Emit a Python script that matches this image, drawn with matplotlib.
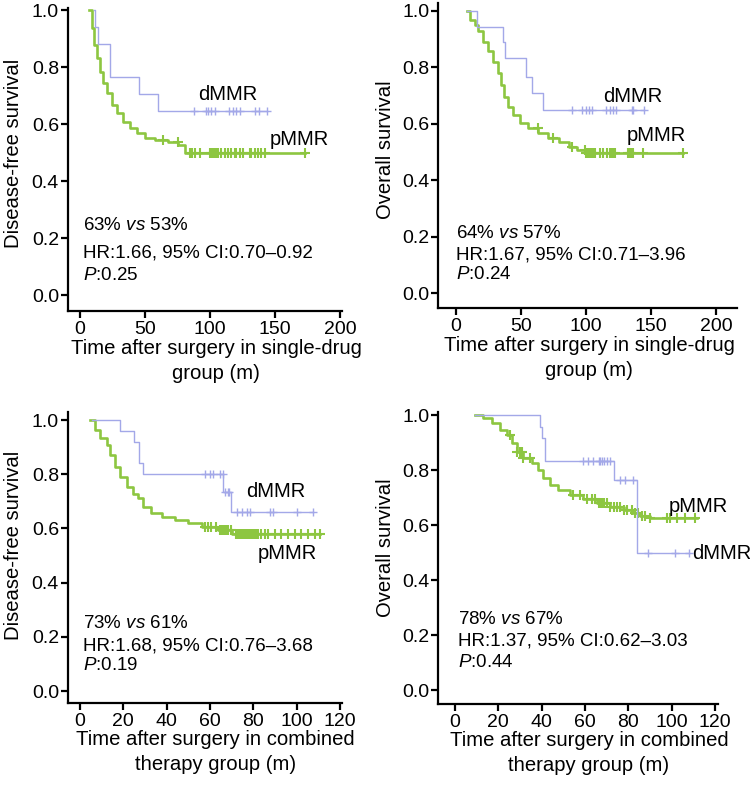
import numpy as np
import matplotlib
matplotlib.use("Agg")
from matplotlib import pyplot as plt

plt.rcParams["font.family"] = ["Liberation Sans", "DejaVu Sans"]
plt.rcParams["mathtext.fontset"] = "custom"
plt.rcParams["mathtext.rm"] = "Liberation Sans"
plt.rcParams["mathtext.it"] = "Liberation Sans:italic"

BLUE = "#a3a8e8"
GREEN = "#8dc641"

# --- single-drug group, disease-free survival ---
dfs1_d_t = [11, 11.5, 13.6, 23, 45.4, 59.7, 144]
dfs1_d_s = [1.0, 0.941, 0.882, 0.765, 0.706, 0.647, 0.647]
dfs1_d_cens = [88, 96.7, 98.5, 100.5, 103.6, 114.6, 117.7, 120.3, 122.8, 134.9, 137.4, 144]
dfs1_p_t = [6.9, 9, 11, 12.8, 15.4, 17.9, 20.5, 24.4, 28.2, 33.3, 38.5, 43.6, 50,
            57.7, 67.9, 75.6, 80.8, 172.8]
dfs1_p_s = [1.0, 0.936, 0.877, 0.83, 0.784, 0.743, 0.708, 0.667, 0.637, 0.608, 0.585,
            0.567, 0.55, 0.544, 0.538, 0.526, 0.50, 0.50]
dfs1_p_cens = [63.8, 75.4, 84.4, 86.2, 88.2, 92.1, 99.7, 101, 102.3, 103.6, 104.9, 106.2,
               108.7, 111.3, 113.8, 116.4, 119, 120.3, 122.8, 125.4, 130.5, 131.8,
               134.4, 136.9, 139.5, 142.1, 172.8]

# --- single-drug group, overall survival ---
os1_d_t = [8.5, 16.2, 36.7, 37.9, 53.8, 58.5, 67.4, 144.6]
os1_d_s = [1.0, 0.944, 0.889, 0.833, 0.767, 0.708, 0.649, 0.649]
os1_d_cens = [89, 97.4, 100, 102.6, 104.4, 115.4, 118.5, 121, 123.1, 135.2, 136.4, 144.6]
os1_p_t = [8.5, 11, 14.9, 17.4, 21.3, 25.1, 29, 32.3, 34.9, 37.4, 40.5, 44.4, 49.5,
           55.9, 63.6, 71.3, 79, 86.7, 93, 99.5, 174.9]
os1_p_s = [1.0, 0.968, 0.95, 0.927, 0.891, 0.856, 0.82, 0.779, 0.738, 0.696, 0.661,
           0.631, 0.602, 0.584, 0.566, 0.549, 0.537, 0.519, 0.507, 0.495, 0.495]
os1_p_cens = [63.3, 74.9, 89, 99.2, 100.5, 101.8, 103.1, 104.4, 105.6, 106.9, 110.8,
              113.3, 115.9, 118.5, 119.7, 121, 122.3, 132.6, 133.8, 135.1, 136.4,
              144.1, 174.9]

# --- combined therapy group, disease-free survival ---
dfs2_d_t = [5.4, 18.5, 25.1, 27.2, 29.2, 66.2, 69.8, 107.5]
dfs2_d_s = [1.0, 0.96, 0.92, 0.84, 0.80, 0.735, 0.66, 0.66]
dfs2_d_cens = [57.5, 60, 61.6, 64.6, 65.8, 66.8, 68.3, 69, 72.4, 74.7, 77, 78.5, 87.8,
               89.3, 100, 107.5]
dfs2_p_t = [4.6, 6.9, 9.2, 12.3, 13.8, 16.2, 18.5, 21.5, 24.6, 26.9, 29.2, 33, 37.7,
            43.8, 50, 56.2, 63.8, 70, 110.6]
dfs2_p_s = [1.0, 0.963, 0.932, 0.908, 0.871, 0.828, 0.791, 0.754, 0.729, 0.711, 0.68,
            0.656, 0.643, 0.631, 0.619, 0.606, 0.594, 0.58, 0.58]
dfs2_p_cens = [57.5, 59.1, 60.6, 63, 64.5, 65.2, 66, 66.8, 67.5, 68.3, 69.8, 72.2, 73,
               73.7, 74.5, 75.2, 76, 76.8, 77.5, 78.3, 79.1, 79.9, 80.6, 81.4, 82.2,
               83.7, 85.2, 86.8, 89.8, 92.9, 96, 99.1, 102.2, 105.2, 108.3, 110.6]

# --- combined therapy group, overall survival ---
os2_d_t = [9.2, 39.2, 40.2, 41.5, 73.1, 83.8, 107.7]
os2_d_s = [1.0, 0.958, 0.917, 0.833, 0.764, 0.50, 0.50]
os2_d_cens = [59.2, 61.5, 63.8, 66.2, 66.9, 67.7, 68.5, 70, 71.5, 76.2, 78.5, 82.3,
              89.2, 101.5, 107.7]
os2_p_t = [9.2, 13.1, 16.9, 20.8, 23.8, 26.2, 28.5, 31.5, 35.4, 38.5, 40.8, 43.8, 47.7,
           53.1, 59.2, 65.4, 71.5, 77.7, 82.3, 85.4, 90, 111.5]
os2_p_s = [1.0, 0.988, 0.97, 0.945, 0.927, 0.897, 0.867, 0.842, 0.824, 0.8, 0.77, 0.745,
           0.727, 0.709, 0.693, 0.679, 0.667, 0.655, 0.642, 0.633, 0.627, 0.627]
os2_p_cens = [25.4, 28.5, 30, 30.8, 31.5, 34.6, 54.6, 57.7, 60.8, 63.1, 64.6, 66.2, 66.9,
              67.7, 68.5, 70, 71.5, 73.1, 74.6, 76.2, 77.7, 79.2, 81.5, 83.1, 84.6,
              86.2, 87.7, 90, 97.7, 99.2, 102.3, 106.2, 110.8]

ylabels = ["Disease-free survival", "Overall survival",
           "Disease-free survival", "Overall survival"]
xlabels = ["Time after surgery in single-drug\ngroup (m)",
           "Time after surgery in single-drug\ngroup (m)",
           "Time after surgery in combined\ntherapy group (m)",
           "Time after surgery in combined\ntherapy group (m)"]
stats = [("63%", "53%", "1.66", "0.70\u20130.92", "0.25"),
         ("64%", "57%", "1.67", "0.71\u20133.96", "0.24"),
         ("73%", "61%", "1.68", "0.76\u20133.68", "0.19"),
         ("78%", "67%", "1.37", "0.62\u20133.03", "0.44")]


def km_at(times, surv, t):
    idx = np.searchsorted(times, t, side="right") - 1
    return np.asarray(surv)[np.clip(idx, 0, len(surv) - 1)]


def draw_curve(ax, t, s, cens, color, lw, ms, mew):
    ax.step(t, s, where="post", color=color, lw=lw, zorder=3)
    ax.plot(cens, km_at(t, s, cens), "+", color=color, ms=ms, mew=mew, zorder=3)


fig = plt.figure(figsize=(7.5, 7.85), dpi=100)
rects = [[0.0907, 0.6038, 0.3653, 0.3860],
         [0.5844, 0.6076, 0.3979, 0.3880],
         [0.0907, 0.1041, 0.3649, 0.3715],
         [0.5844, 0.1028, 0.3733, 0.3727]]
xlims = [(-9.2, 201.5), (-13.4, 216), (-5.5, 120.8), (-7.7, 121.4)]
ylims = [(-0.056, 1.007), (-0.052, 1.026), (-0.045, 1.031), (-0.052, 1.012)]
xtick_sets = [np.arange(0, 201, 50), np.arange(0, 201, 50),
              np.arange(0, 121, 20), np.arange(0, 121, 20)]
curves = [
    (dfs1_d_t, dfs1_d_s, dfs1_d_cens, dfs1_p_t, dfs1_p_s, dfs1_p_cens),
    (os1_d_t, os1_d_s, os1_d_cens, os1_p_t, os1_p_s, os1_p_cens),
    (dfs2_d_t, dfs2_d_s, dfs2_d_cens, dfs2_p_t, dfs2_p_s, dfs2_p_cens),
    (os2_d_t, os2_d_s, os2_d_cens, os2_p_t, os2_p_s, os2_p_cens),
]
# label positions (data coords): dMMR, pMMR
group_labels = [((114, 0.705), (169, 0.544)),
                ((136, 0.696), (154, 0.56)),
                ((90.5, 0.735), (95.6, 0.508)),
                ((123, 0.497), (112, 0.667))]
text_x = [2, 0.5, 1.2, 1.2]
text_y = [(0.243, 0.146, 0.070), (0.212, 0.135, 0.065),
          (0.25, 0.167, 0.093), (0.258, 0.179, 0.10)]
ylab_pos = [(-0.165, 0.52), (-0.145, 0.52), (-0.166, 0.54), (-0.155, 0.536)]
xlab_pos = [0.54, 0.505, 0.54, 0.538]

for i, r in enumerate(rects):
    ax = fig.add_axes(r)
    dt, ds, dc, pt, ps, pc = curves[i]
    draw_curve(ax, pt, ps, pc, GREEN, 1.9, 7, 1.5)
    draw_curve(ax, dt, ds, dc, BLUE, 1.0, 6, 1.0)

    ax.set_xlim(*xlims[i])
    ax.set_ylim(*ylims[i])
    ax.set_xticks(xtick_sets[i])
    ax.set_yticks([0, 0.2, 0.4, 0.6, 0.8, 1.0])
    ax.set_yticklabels(["0.0", "0.2", "0.4", "0.6", "0.8", "1.0"])
    for side in ["top", "right"]:
        ax.spines[side].set_visible(False)
    for side in ["left", "bottom"]:
        ax.spines[side].set_linewidth(1.6)
    ax.tick_params(direction="out", length=5, width=1.6, labelsize=14)
    ax.tick_params(axis="y", pad=1.5)
    ax.tick_params(axis="x", pad=2)

    ax.set_ylabel(ylabels[i], fontsize=14.6)
    ax.yaxis.set_label_coords(*ylab_pos[i])
    ax.set_xlabel(xlabels[i], fontsize=14.6, linespacing=1.4)
    ax.xaxis.set_label_coords(xlab_pos[i], -0.092)

    (dx, dy), (px, py) = group_labels[i]
    ax.text(dx, dy, "dMMR", fontsize=14.5, ha="center", va="center")
    ax.text(px, py, "pMMR", fontsize=14.5, ha="center", va="center")

    a, b, hr, ci, p = stats[i]
    y1, y2, y3 = text_y[i]
    ax.text(text_x[i], y1, a + r" $\mathit{vs}$ " + b, fontsize=13.5, va="center")
    ax.text(text_x[i], y2, "HR:" + hr + ", 95% CI:" + ci, fontsize=13.5, va="center")
    ax.text(text_x[i], y3, r"$\mathit{P}$:" + p, fontsize=13.5, va="center")

fig.savefig("out.png", dpi=100)
